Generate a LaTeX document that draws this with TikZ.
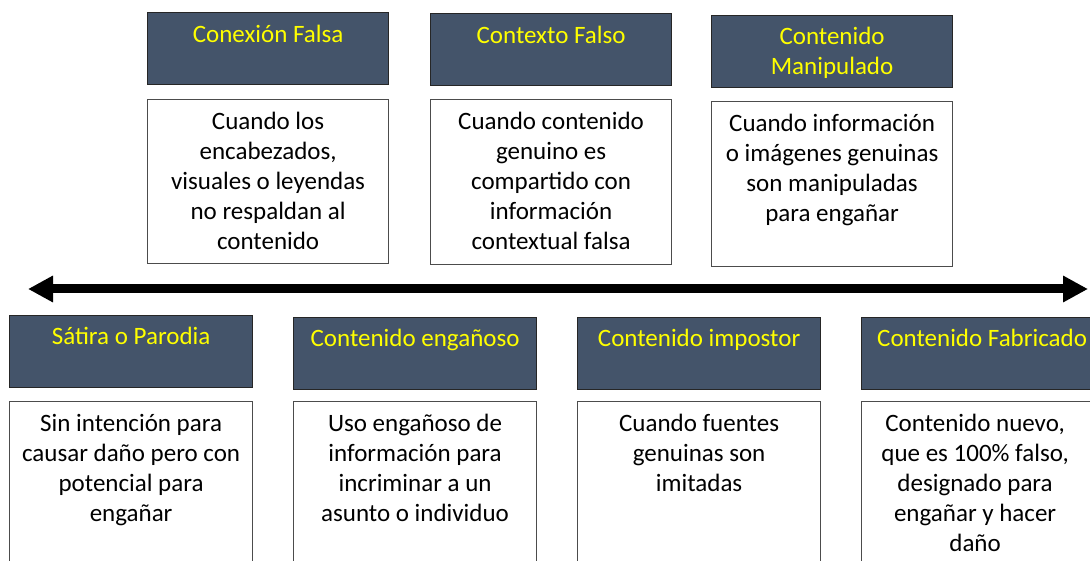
\documentclass[tikz,border=0pt]{standalone}
\usepackage{fontspec}
\setmainfont{Carlito}
\usetikzlibrary{arrows.meta}
\definecolor{hdrblue}{HTML}{44546A}
\definecolor{hdryellow}{HTML}{FFFF00}
\begin{document}
\begin{tikzpicture}[x=1pt,y=-1pt,
  hdr/.style={draw=black!85, line width=1.2pt, fill=hdrblue, anchor=north west, inner sep=0pt, minimum width=241pt, minimum height=72pt},
  bodybox/.style={draw=black!70, line width=1.2pt, fill=white, anchor=north west, inner sep=0pt, minimum width=241pt, minimum height=#1},
  txt/.style={anchor=north, inner sep=0pt, align=center, font=\fontsize{25pt}{30pt}\selectfont},
  htxt/.style={txt, text=hdryellow},
  bigarrow/.style={line width=9pt, {Triangle[length=25pt,width=25pt]}-{Triangle[length=25pt,width=25pt]}}]
\useasboundingbox (0,0) rectangle (1090,561);
\clip (0,0) rectangle (1090,561);
\fill[white] (0,0) rectangle (1090,561);

% top row
\node[hdr] (h1) at (147,12) {};
\node[htxt] (h1t) at ([yshift=-9pt]h1.north) {\strut Conexión Falsa};
\node[hdr] (h2) at (430,13) {};
\node[htxt] (h2t) at ([yshift=-9pt]h2.north) {\strut Contexto Falso};
\node[hdr] (h3) at (711,15) {};
\node[htxt] (h3t) at ([yshift=-8pt]h3.north) {\strut Contenido\\Manipulado};

\node[bodybox=164pt] (b1) at (147,99) {};
\node[txt] (b1t) at ([yshift=-9pt]b1.north) {\strut Cuando los\\encabezados,\\visuales o leyendas\\no respaldan al\\contenido};
\node[bodybox=165pt] (b2) at (430,99) {};
\node[txt] (b2t) at ([yshift=-9pt]b2.north) {\strut Cuando contenido\\genuino es\\compartido con\\información\\contextual falsa};
\node[bodybox=165pt] (b3) at (711,101) {};
\node[txt] (b3t) at ([yshift=-9pt]b3.north) {\strut Cuando información\\o imágenes genuinas\\son manipuladas\\para engañar};

% arrow
\coordinate (aL) at (28,289);
\coordinate (aR) at (1088,289);
\draw[bigarrow] (aL) -- (aR);

% bottom row
\node[hdr, minimum width=243pt] (h4) at (9,315) {};
\node[htxt] (h4t) at ([yshift=-8pt]h4.north) {\strut Sátira o Parodia};
\node[hdr, minimum width=243pt] (h5) at (293,317) {};
\node[htxt] (h5t) at ([yshift=-8pt]h5.north) {\strut Contenido engañoso};
\node[hdr, minimum width=243pt] (h6) at (577,317) {};
\node[htxt] (h6t) at ([yshift=-8pt]h6.north) {\strut Contenido impostor};
\node[hdr, minimum width=243pt] (h7) at (861,317) {};
\node[htxt] (h7t) at ([xshift=-1pt,yshift=-8pt]h7.north) {\strut Contenido Fabricado};

\node[bodybox=175pt, minimum width=243pt] (b4) at (9,401) {};
\node[txt] (b4t) at ([yshift=-9pt]b4.north) {\strut Sin intención para\\causar daño pero con\\potencial para\\engañar};
\node[bodybox=175pt, minimum width=243pt] (b5) at (293,401) {};
\node[txt] (b5t) at ([yshift=-9pt]b5.north) {\strut Uso engañoso de\\información para\\incriminar a un\\asunto o individuo};
\node[bodybox=175pt, minimum width=243pt] (b6) at (577,401) {};
\node[txt] (b6t) at ([yshift=-9pt]b6.north) {\strut Cuando fuentes\\genuinas son\\imitadas};
\node[bodybox=175pt, minimum width=243pt] (b7) at (861,401) {};
\node[txt] (b7t) at ([xshift=-8pt,yshift=-9pt]b7.north) {\strut Contenido nuevo,\\que es 100\% falso,\\designado para\\engañar y hacer\\daño};
\end{tikzpicture}
\end{document}
